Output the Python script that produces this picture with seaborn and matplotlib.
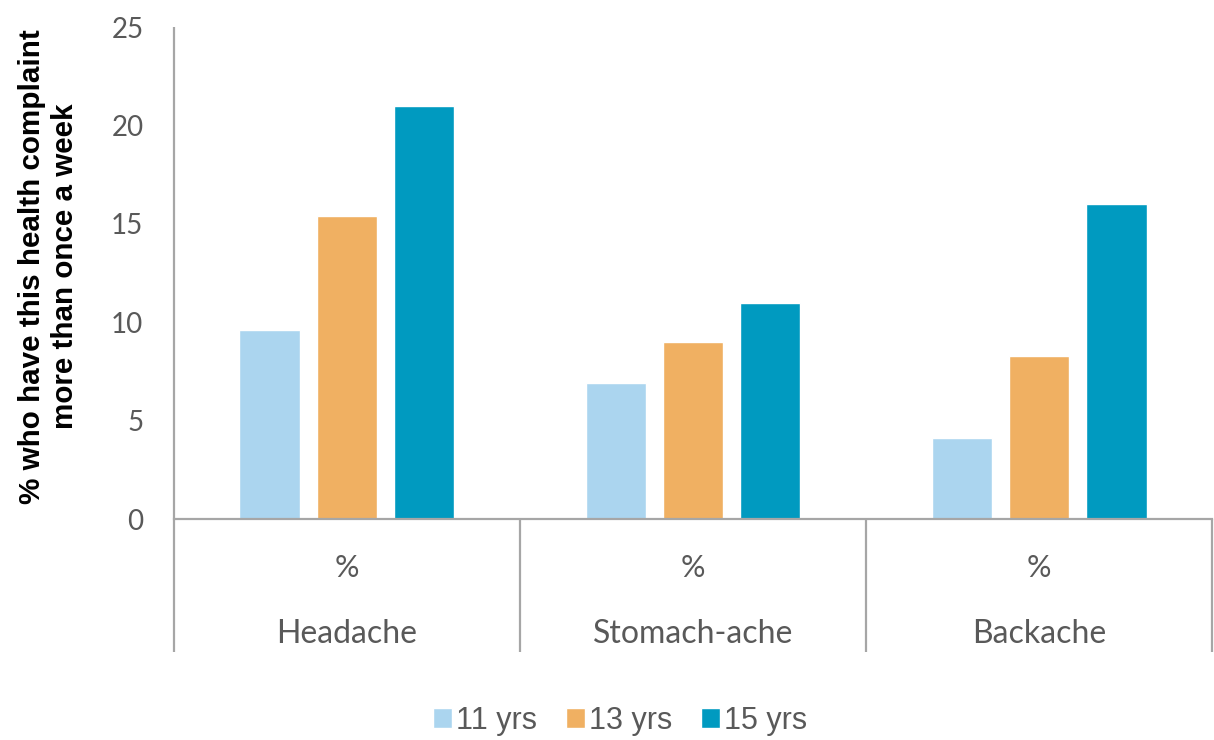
import numpy as np
import pandas as pd
import matplotlib
matplotlib.use("Agg")
import matplotlib.pyplot as plt
import seaborn as sns

# values
complaints = ["Headache", "Stomach-ache", "Backache"]
ages = ["11 yrs", "13 yrs", "15 yrs"]
pct_11 = [9.6, 6.9, 4.1]
pct_13 = [15.4, 9.0, 8.3]
pct_15 = [21.0, 11.0, 16.0]
y_ticks = [0, 5, 10, 15, 20, 25]
sub_label = "%"

colors = ["#ABD5EF", "#F0B062", "#009AC0"]
grey = "#595959"
line_grey = "#A6A6A6"

rows = []
for age, vals in zip(ages, [pct_11, pct_13, pct_15]):
    for c, v in zip(complaints, vals):
        rows.append({"complaint": c, "age": age, "value": v})
df = pd.DataFrame(rows)

sns.set_style("white")
plt.rcParams["font.family"] = ["Lato", "DejaVu Sans"]

fig = plt.figure(figsize=(12.14, 7.4), dpi=100)
ax = fig.add_axes([0.1433, 0.2986, 0.8551, 0.6649])

sns.barplot(data=df, x="complaint", y="value", hue="age", order=complaints,
            hue_order=ages, palette=colors, width=0.668, gap=0.21,
            saturation=1, ax=ax, legend=True)

ax.set_ylim(0, 25)
ax.set_xlim(-0.5, len(complaints) - 0.5)
ax.set_yticks(y_ticks)
ax.set_yticklabels([str(t) for t in y_ticks], color=grey, fontsize=20)
ax.tick_params(axis="y", length=0, pad=22)
ax.tick_params(axis="x", length=0, labelbottom=False)
ax.set_xlabel("")
ax.set_ylabel("")

for s in ["top", "right", "left"]:
    ax.spines[s].set_visible(False)
ax.spines["bottom"].set_color(line_grey)
ax.spines["bottom"].set_linewidth(1.6)

# category dividers / left axis line extending below zero
trans = ax.get_xaxis_transform()
for i in range(len(complaints) + 1):
    top = 1.0 if i == 0 else 0.0
    ax.plot([i - 0.5, i - 0.5], [top, -0.27], transform=trans, color=line_grey,
            lw=1.6, clip_on=False, solid_capstyle="butt")

for i, c in enumerate(complaints):
    ax.text(i, -0.0996, sub_label, transform=trans, ha="center", va="center",
            fontsize=22, color=grey)
    ax.text(i, -0.234, c, transform=trans, ha="center", va="center",
            fontsize=23, color=grey)

fig.text(0.04, 0.64, "% who have this health complaint\nmore than once a week",
         rotation=90, ha="center", va="center", multialignment="center",
         fontsize=21.3, fontweight="bold", color="black", linespacing=1.2,
         family=["Liberation Sans", "DejaVu Sans"])

handles, labels = ax.get_legend_handles_labels()
ax.legend_.remove()
fig.legend(handles, labels, loc="center", bbox_to_anchor=(0.511, 0.026),
           ncol=3, frameon=False, handlelength=0.6, handleheight=0.6,
           handletextpad=0.15, columnspacing=0.95,
           prop={"family": ["Liberation Sans", "DejaVu Sans"], "size": 22},
           labelcolor=grey)

fig.savefig("out.png", dpi=100)
